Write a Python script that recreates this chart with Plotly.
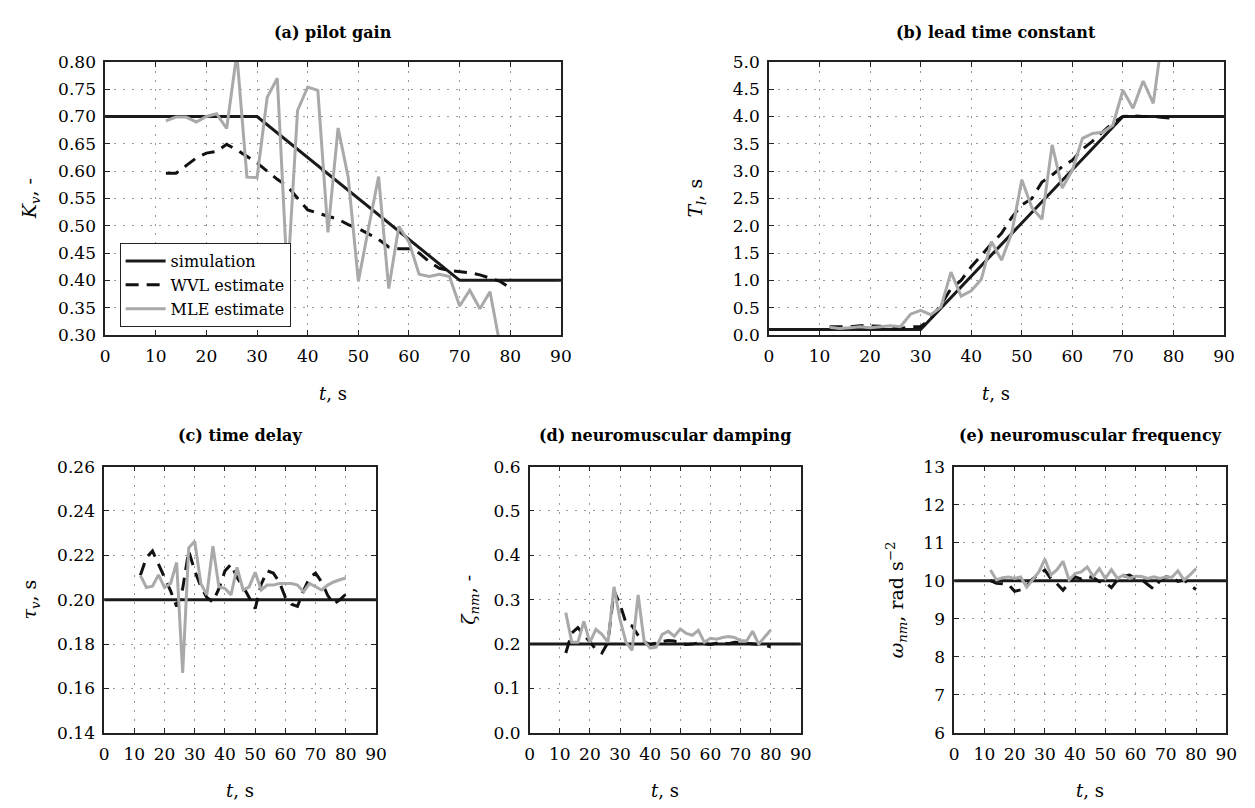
import plotly.graph_objects as go

# ---------------- data ----------------
t_est = [12, 14, 16, 18, 20, 22, 24, 26, 28, 30, 32, 34, 36, 38, 40, 42, 44, 46,
         48, 50, 52, 54, 56, 58, 60, 62, 64, 66, 68, 70, 72, 74, 76, 78, 80]

sim_t_ramp = [0, 30, 70, 90]
sim_t_flat = [0, 90]

# (a) pilot gain
sim_a = [0.70, 0.70, 0.40, 0.40]
wvl_a = [0.596, 0.596, 0.610, 0.624, 0.633, 0.636, 0.649, 0.639, 0.627, 0.615,
         0.600, 0.585, 0.572, 0.550, 0.529, 0.523, 0.518, 0.512, 0.502, 0.495,
         0.485, 0.475, 0.461, 0.458, 0.458, 0.450, 0.434, 0.422, 0.418, 0.416,
         0.414, 0.410, 0.404, 0.398, 0.386]
mle_a = [0.692, 0.699, 0.699, 0.690, 0.700, 0.705, 0.678, 0.815, 0.589, 0.588,
         0.735, 0.770, 0.400, 0.711, 0.754, 0.748, 0.488, 0.679, 0.589, 0.398,
         0.495, 0.590, 0.385, 0.499, 0.470, 0.411, 0.407, 0.411, 0.407, 0.353,
         0.382, 0.348, 0.379, 0.280, 0.260]

# (b) lead time constant
sim_b = [0.1, 0.1, 4.0, 4.0]
wvl_b = [0.15, 0.15, 0.15, 0.17, 0.17, 0.16, 0.13, 0.12, 0.15, 0.15,
         0.30, 0.55, 0.85, 1.00, 1.25, 1.47, 1.67, 1.86, 2.15, 2.38,
         2.50, 2.80, 2.93, 3.08, 3.20, 3.40, 3.55, 3.72, 3.88, 4.00,
         4.01, 4.00, 4.00, 3.98, 3.97]
mle_b = [0.14, 0.12, 0.13, 0.15, 0.13, 0.15, 0.17, 0.15, 0.38, 0.45,
         0.37, 0.51, 1.15, 0.71, 0.81, 1.02, 1.71, 1.37, 1.86, 2.84,
         2.33, 2.12, 3.48, 2.69, 3.02, 3.60, 3.69, 3.71, 3.84, 4.48,
         4.15, 4.65, 4.24, 5.60, 5.80]

# (c) time delay
sim_c = [0.20, 0.20]
wvl_c = [0.211, 0.219, 0.222, 0.216, 0.210, 0.204, 0.197, 0.205, 0.222, 0.213,
         0.206, 0.201, 0.199, 0.205, 0.213, 0.216, 0.210, 0.206, 0.201, 0.196,
         0.207, 0.213, 0.212, 0.208, 0.201, 0.198, 0.197, 0.204, 0.210, 0.212,
         0.208, 0.202, 0.198, 0.200, 0.2025]
mle_c = [0.2110, 0.2055, 0.2061, 0.2112, 0.2055, 0.2073, 0.2168, 0.1670, 0.2234, 0.2263,
         0.2073, 0.2022, 0.2241, 0.2058, 0.2051, 0.2022, 0.2146, 0.2044, 0.2058, 0.2124,
         0.2044, 0.2066, 0.2066, 0.2073, 0.2073, 0.2073, 0.2066, 0.2036, 0.2073, 0.2058,
         0.2044, 0.2066, 0.2080, 0.2090, 0.2098]

# (d) neuromuscular damping
sim_d = [0.20, 0.20]
wvl_d = [0.180, 0.225, 0.237, 0.222, 0.205, 0.188, 0.180, 0.204, 0.320, 0.290,
         0.247, 0.241, 0.220, 0.205, 0.199, 0.202, 0.206, 0.208, 0.207, 0.202,
         0.199, 0.200, 0.203, 0.201, 0.199, 0.202, 0.203, 0.201, 0.204, 0.203,
         0.202, 0.200, 0.199, 0.198, 0.194]
mle_d = [0.271, 0.204, 0.204, 0.251, 0.204, 0.233, 0.222, 0.204, 0.329, 0.255,
         0.204, 0.186, 0.311, 0.207, 0.191, 0.193, 0.222, 0.229, 0.218, 0.234,
         0.224, 0.220, 0.231, 0.204, 0.213, 0.211, 0.215, 0.217, 0.215, 0.208,
         0.207, 0.229, 0.200, 0.215, 0.232]

# (e) neuromuscular frequency
sim_e = [10.0, 10.0]
wvl_e = [10.00, 9.93, 9.92, 9.90, 9.72, 9.76, 9.87, 10.05, 10.17, 10.28,
         10.05, 9.92, 9.75, 9.95, 10.10, 10.05, 10.12, 10.08, 9.98, 9.95,
         9.82, 10.02, 10.12, 10.15, 10.05, 10.03, 9.90, 9.78, 10.00, 10.10,
         10.10, 9.98, 10.02, 9.88, 9.77]
mle_e = [10.28, 10.02, 10.08, 10.10, 10.06, 10.10, 9.83, 10.02, 10.23, 10.57,
         10.15, 10.29, 10.51, 10.02, 10.19, 10.23, 10.36, 10.11, 10.32, 10.06,
         10.29, 10.06, 10.15, 10.06, 10.12, 10.11, 10.06, 10.10, 10.06, 10.10,
         10.09, 10.26, 10.02, 10.15, 10.32]

titles = ["(a) pilot gain", "(b) lead time constant", "(c) time delay",
          "(d) neuromuscular damping", "(e) neuromuscular frequency"]
ylabels = ["<i>K<sub>v</sub></i>, -", "<i>T<sub>l</sub></i>, s", "<i>τ<sub>v</sub></i>, s",
           "<i>ζ<sub>nm</sub></i>, -", "<i>ω<sub>nm</sub></i>, rad s<sup>−2</sup>"]
xlabel = "<i>t</i>, s"
legend_names = ["simulation", "WVL estimate", "MLE estimate"]

# ---------------- layout geometry (pixels) ----------------
W, H = 1255, 808
FONT = "DejaVu Serif"
panels = [
    dict(x=(93.3, 555.0), y=(45, 325), yr=[0.30, 0.80], dt=0.05, fmt=".2f", ylx=18),
    dict(x=(765.7, 1226.7), y=(45, 325), yr=[0.0, 5.0], dt=0.5, fmt=".1f", ylx=692),
    dict(x=(92.3, 367.7), y=(460, 733), yr=[0.14, 0.26], dt=0.02, fmt=".2f", ylx=18),
    dict(x=(523.3, 798.0), y=(460, 733), yr=[0.0, 0.6], dt=0.1, fmt=".1f", ylx=463),
    dict(x=(953.3, 1229.0), y=(460, 733), yr=[6, 13], dt=1, fmt="d", ylx=895),
]

series = [
    (sim_t_ramp, sim_a, wvl_a, mle_a),
    (sim_t_ramp, sim_b, wvl_b, mle_b),
    (sim_t_flat, sim_c, wvl_c, mle_c),
    (sim_t_flat, sim_d, wvl_d, mle_d),
    (sim_t_flat, sim_e, wvl_e, mle_e),
]

fig = go.Figure()
layout = dict(
    width=W, height=H,
    margin=dict(l=0, r=0, t=0, b=0),
    paper_bgcolor="white", plot_bgcolor="white",
    font=dict(family=FONT, size=17, color="black"),
    showlegend=True,
    legend=dict(x=108 / W, y=1 - 317 / H, xanchor="left", yanchor="bottom",
                bgcolor="white", bordercolor="#222", borderwidth=1,
                font=dict(family=FONT, size=16), tracegroupgap=0,
                itemwidth=40),
)
annotations = []

for i, (p, (st, sv, wv, mv)) in enumerate(zip(panels, series)):
    n = "" if i == 0 else str(i + 1)
    xa, ya = "x" + n, "y" + n
    x0, x1 = p["x"][0] / W, p["x"][1] / W
    y0, y1 = 1 - p["y"][1] / H, 1 - p["y"][0] / H
    common = dict(showline=True, linecolor="#222", linewidth=1.5, mirror="ticks",
                  ticks="inside", ticklen=5, tickcolor="#222", tickwidth=1,
                  showgrid=True, gridcolor="#9a9a9a", griddash="2px,7px", gridwidth=1,
                  zeroline=False, tickfont=dict(family=FONT, size=17))
    layout["xaxis" + n] = dict(domain=[x0, x1], range=[0, 90], dtick=10, tick0=0,
                               anchor=ya, ticklabelstandoff=5, **common)
    layout["yaxis" + n] = dict(domain=[y0, y1], range=p["yr"], dtick=p["dt"], tick0=0,
                               tickformat=p["fmt"], anchor=xa, ticklabelstandoff=4, **common)
    show = (i == 0)
    fig.add_trace(go.Scatter(x=st, y=sv, mode="lines", xaxis=xa, yaxis=ya,
                             line=dict(color="#1a1a1a", width=3),
                             name=legend_names[0], showlegend=show))
    fig.add_trace(go.Scatter(x=t_est, y=wv, mode="lines", xaxis=xa, yaxis=ya,
                             line=dict(color="#111111", width=3, dash="13px,8px"),
                             name=legend_names[1], showlegend=show))
    fig.add_trace(go.Scatter(x=t_est, y=mv, mode="lines", xaxis=xa, yaxis=ya,
                             line=dict(color="#a9a9a9", width=3),
                             name=legend_names[2], showlegend=show))
    xc = (x0 + x1) / 2
    yc = (y0 + y1) / 2
    title_y = 1 - (15 if i < 2 else 428) / H
    xlab_y = 1 - (385 if i < 2 else 792) / H
    annotations.append(dict(text="<b>" + titles[i] + "</b>", x=xc, y=title_y,
                            xref="paper", yref="paper", showarrow=False,
                            xanchor="center", yanchor="middle",
                            font=dict(family=FONT, size=16)))
    annotations.append(dict(text=xlabel, x=xc, y=xlab_y, xref="paper", yref="paper",
                            showarrow=False, xanchor="center", yanchor="middle",
                            font=dict(family=FONT, size=18)))
    annotations.append(dict(text=ylabels[i], x=p["ylx"] / W, y=yc, xref="paper",
                            yref="paper", showarrow=False, textangle=-90,
                            xanchor="center", yanchor="middle",
                            font=dict(family=FONT, size=19)))

layout["annotations"] = annotations
fig.update_layout(**layout)
fig.write_html("out.html")
